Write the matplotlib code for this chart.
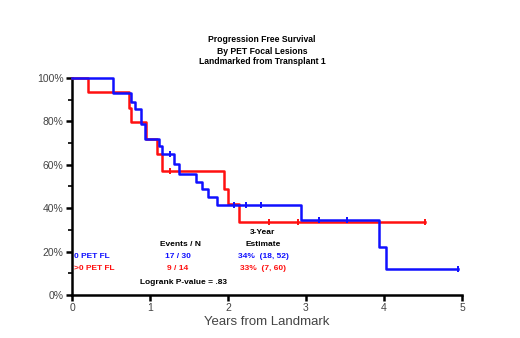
import matplotlib
matplotlib.use("Agg")
import matplotlib.pyplot as plt
from matplotlib.ticker import MultipleLocator, FuncFormatter

plt.rcParams['font.family'] = ['Liberation Sans', 'DejaVu Sans']

# Blue group: step times and survival after each step
blue_t = [0, 0.52, 0.75, 0.81, 0.89, 0.93, 1.11, 1.15, 1.31, 1.37, 1.585, 1.67, 1.74, 1.86, 2.94, 3.93, 4.02]
blue_s = [1.0, 0.933, 0.89, 0.855, 0.79, 0.72, 0.688, 0.652, 0.604, 0.558, 0.52, 0.489, 0.451, 0.413, 0.344, 0.22, 0.12]
blue_end = 4.95
blue_cens_t = [1.26, 2.08, 2.23, 2.42, 3.17, 3.53, 4.95]

# Red group
red_t = [0, 0.20, 0.73, 0.76, 0.95, 1.09, 1.155, 1.95, 2.0, 2.14]
red_s = [1.0, 0.936, 0.864, 0.795, 0.719, 0.65, 0.573, 0.49, 0.42, 0.336]
red_end = 4.52
red_cens_t = [1.25, 2.53, 2.9, 4.52]

title_lines = ["Progression Free Survival", "By PET Focal Lesions", "Landmarked from Transplant 1"]
group_labels = ["0 PET FL", ">0 PET FL"]
events_n = ["17 / 30", "9 / 14"]
estimates = ["34%  (18, 52)", "33%  (7, 60)"]
pvalue_text = "Logrank P-value = .83"
x_ticks = [0, 1, 2, 3, 4, 5]
y_ticks = [0, 0.2, 0.4, 0.6, 0.8, 1.0]

BLUE = "#1010ff"
RED = "#ff1010"

fig = plt.figure(figsize=(5.2, 3.38), dpi=100)
ax = fig.add_axes([72/520, 1-295/338, 390/520, 217/338])


def surv_at(ts, ss, x):
    v = ss[0]
    for t, s in zip(ts, ss):
        if t <= x:
            v = s
    return v


for ts, ss, end, cens, col in [(red_t, red_s, red_end, red_cens_t, RED),
                                (blue_t, blue_s, blue_end, blue_cens_t, BLUE)]:
    xs = list(ts) + [end]
    ys = list(ss) + [ss[-1]]
    ax.step(xs, ys, where='post', color=col, lw=1.8, clip_on=False, zorder=3)
    cy = [surv_at(ts, ss, c) for c in cens]
    ax.plot(cens, cy, linestyle='none', marker='|', markersize=4, mew=1.4,
            color=col, clip_on=False, zorder=3)

ax.set_xlim(0, 5)
ax.set_ylim(0, 1)
ax.set_xticks(x_ticks)
ax.set_yticks(y_ticks)
ax.yaxis.set_minor_locator(MultipleLocator(0.1))
ax.yaxis.set_major_formatter(FuncFormatter(lambda v, p: f"{int(round(v*100))}%"))
for s in ['top', 'right']:
    ax.spines[s].set_visible(False)
for s in ['left', 'bottom']:
    ax.spines[s].set_linewidth(1.8)
ax.tick_params(axis='both', which='major', direction='out', length=4, width=1.8,
               labelsize=7.5, colors='black', labelcolor='#444444', pad=2)
ax.tick_params(axis='y', which='minor', direction='out', length=3, width=1.2)
ax.set_xlabel("Years from Landmark", fontsize=9.5, color='#444444', labelpad=2)

# Title
for i, line in enumerate(title_lines):
    fig.text(262/520, 1-(40+11*i)/338, line, ha='center', va='center',
             fontsize=6.2, fontweight='bold', color='black')

# Legend table
def fy(y):
    return 1 - y/338

FS = 6
fig.text(263/520, fy(233), "3-Year", ha='center', va='center', fontsize=FS, fontweight='bold')
fig.text(263/520, fy(245), "Estimate", ha='center', va='center', fontsize=FS, fontweight='bold')
fig.text(180/520, fy(245), "Events / N", ha='center', va='center', fontsize=FS, fontweight='bold')
for i, (lab, ev, est, col) in enumerate(zip(group_labels, events_n, estimates, [BLUE, RED])):
    y = fy(257 + 11*i)
    fig.text(74/520, y, lab, ha='left', va='center', fontsize=FS, fontweight='bold', color=col)
    fig.text(178/520, y, ev, ha='center', va='center', fontsize=FS, fontweight='bold', color=col)
    fig.text(263/520, y, est, ha='center', va='center', fontsize=FS, fontweight='bold', color=col)
fig.text(184/520, fy(283), pvalue_text, ha='center', va='center', fontsize=FS, fontweight='bold')

fig.savefig("out.png", dpi=100)
